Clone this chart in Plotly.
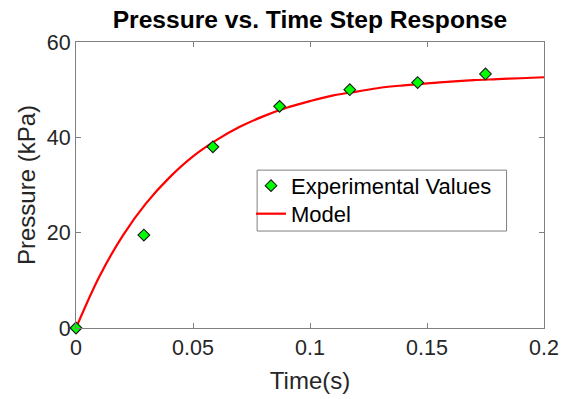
import plotly.graph_objects as go

# Measured step response
time_exp = [0.0, 0.029, 0.0585, 0.087, 0.117, 0.146, 0.175]
pressure_exp = [0.0, 19.5, 38.0, 46.5, 50.0, 51.5, 53.3]

# First-order model response, sampled every 10 ms
time_model = [0.00, 0.01, 0.02, 0.03, 0.04, 0.05, 0.06, 0.07, 0.08, 0.09, 0.10,
              0.11, 0.12, 0.13, 0.14, 0.15, 0.16, 0.17, 0.18, 0.19, 0.20]
pressure_model = [0.0, 10.8, 19.4, 26.2, 31.6, 36.0, 39.4, 42.2, 44.4, 46.2, 47.6,
                  48.8, 49.6, 50.4, 50.9, 51.3, 51.7, 52.0, 52.2, 52.4, 52.6]

x_ticks = [0, 0.05, 0.1, 0.15, 0.2]
x_tick_text = ["0", "0.05", "0.1", "0.15", "0.2"]
y_ticks = [0, 20, 40, 60]

FONT = "Liberation Sans, Arial, sans-serif"
AXIS_COLOR = "#808080"
TEXT_COLOR = "#262626"

fig = go.Figure()
fig.add_trace(go.Scatter(
    x=time_model, y=pressure_model, mode="lines", name="Model",
    line=dict(color="#ff0000", width=2.2, shape="spline"),
    legend="legend2",
))
fig.add_trace(go.Scatter(
    x=time_exp, y=pressure_exp, mode="markers", name="Experimental Values",
    marker=dict(symbol="diamond", size=9, color="#00ff00",
                line=dict(color="#1a1a1a", width=1.1)),
    cliponaxis=False,
    legend="legend",
))

axis_common = dict(
    showline=True, linecolor=AXIS_COLOR, linewidth=1, mirror="ticks",
    ticks="inside", ticklen=5, tickcolor=AXIS_COLOR, tickwidth=1,
    showgrid=False, zeroline=False, automargin=False,
    tickfont=dict(family=FONT, size=21.5, color=TEXT_COLOR),
)

# one entry per legend so the rows sit close together inside a shared frame
legend_common = dict(
    xanchor="left", yanchor="middle", x=0.374,
    bgcolor="rgba(0,0,0,0)", borderwidth=0,
    font=dict(family=FONT, size=22, color="black"),
    itemwidth=30,
)

fig.update_layout(
    width=561, height=399,
    margin=dict(l=76, r=17, t=42, b=71),
    paper_bgcolor="white", plot_bgcolor="white",
    title=dict(text="<b>Pressure vs. Time Step Response</b>",
               font=dict(family=FONT, size=24.6, color="black"),
               x=0.5, xref="paper", xanchor="center",
               y=1, yref="container", yanchor="top", pad=dict(t=11)),
    xaxis=dict(range=[0, 0.2], tickvals=x_ticks, ticktext=x_tick_text,
               title=dict(text="Time(s)", font=dict(family=FONT, size=24, color=TEXT_COLOR),
                          standoff=13),
               **axis_common),
    yaxis=dict(range=[0, 60], tickvals=y_ticks,
               title=dict(text="Pressure (kPa)", font=dict(family=FONT, size=24, color=TEXT_COLOR),
                          standoff=4),
               **axis_common),
    legend=dict(y=0.497, **legend_common),
    legend2=dict(y=0.399, **legend_common),
    shapes=[dict(type="rect", xref="paper", yref="paper",
                 x0=0.387, x1=0.920, y0=0.339, y1=0.552,
                 fillcolor="white", line=dict(color=AXIS_COLOR, width=1),
                 layer="above")],
    showlegend=True,
)

fig.write_html("out.html")
